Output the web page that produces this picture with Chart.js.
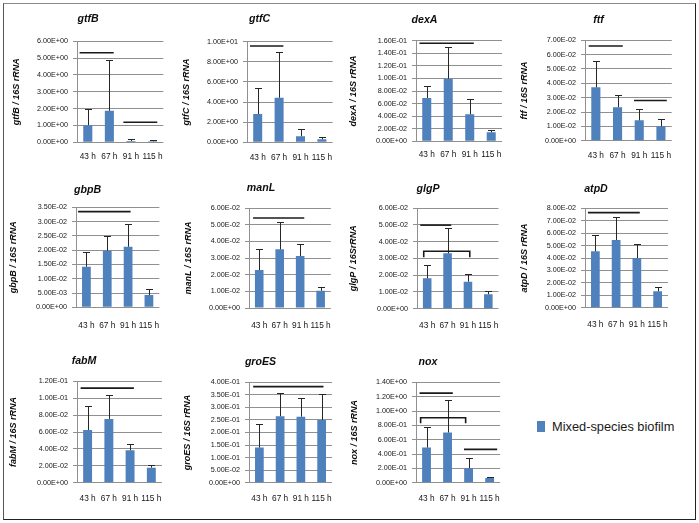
<!DOCTYPE html>
<html><head><meta charset="utf-8">
<script src="https://cdn.jsdelivr.net/npm/chart.js@4.4.1/dist/chart.umd.min.js"></script>
<style>
html,body{margin:0;padding:0;background:#fff;}
#wrap{position:relative;width:699px;height:523px;overflow:hidden;background:#fff;}
#frame{position:absolute;left:3px;top:3px;width:691px;height:515px;border:1px solid #555;border-top-color:#8a8a8a;border-right-color:#222;border-bottom-color:#222;}
canvas{position:absolute;}
#sw{position:absolute;left:537px;top:421px;width:8px;height:11px;background:#4F81BD;}
#legtxt{position:absolute;left:552px;top:420px;font:12.8px "Liberation Sans",Arial,sans-serif;line-height:14px;color:#1a1a1a;white-space:nowrap;}
</style></head><body>
<div id="wrap"><div id="frame"></div>
<div id="sw"></div><div id="legtxt">Mixed-species biofilm</div>
</div>
<script>
// ---- data ----
const categories = ['43 h', '67 h', '91 h', '115 h'];
const genes = ['gtfB', 'gtfC', 'dexA', 'ftf', 'gbpB', 'manL', 'glgP', 'atpD', 'fabM', 'groES', 'nox'];
const yTitles = ['gtfB / 16S rRNA', 'gtfC / 16S rRNA', 'dexA / 16S rRNA', 'ftf / 16S rRNA', 'gbpB / 16S rRNA', 'manL / 16S rRNA', 'glgP / 16SrRNA', 'atpD / 16S rRNA', 'fabM / 16S rRNA', 'groES / 16S rRNA', 'nox / 16S rRNA'];

const gtfB = [1.02, 1.87, 0.08, 0.06];
const gtfB_sd = [0.94, 3.02, 0.09, 0.07];
const gtfC = [2.81, 4.43, 0.60, 0.30];
const gtfC_sd = [2.62, 4.51, 0.69, 0.23];
const dexA = [0.069, 0.0996, 0.0429, 0.0143];
const dexA_sd = [0.0185, 0.0499, 0.0244, 0.0042];
const ftf = [0.0372, 0.0234, 0.0142, 0.0100];
const ftf_sd = [0.0183, 0.0085, 0.0081, 0.0054];
const gbpB = [0.0142, 0.0198, 0.0212, 0.0043];
const gbpB_sd = [0.0052, 0.0050, 0.0081, 0.0022];
const manL = [0.0228, 0.0352, 0.0312, 0.0104];
const manL_sd = [0.0124, 0.0162, 0.0070, 0.0020];
const glgP = [0.0181, 0.0330, 0.0161, 0.0086];
const glgP_sd = [0.0079, 0.0148, 0.0045, 0.0021];
const atpD = [0.0454, 0.0545, 0.0400, 0.0132];
const atpD_sd = [0.0133, 0.0183, 0.0110, 0.0032];
const fabM = [0.0624, 0.0755, 0.0384, 0.0178];
const fabM_sd = [0.0289, 0.0285, 0.0079, 0.0027];
const groES = [0.140, 0.265, 0.263, 0.250];
const groES_sd = [0.095, 0.092, 0.075, 0.105];
const nox = [0.49, 0.70, 0.20, 0.065];
const nox_sd = [0.28, 0.46, 0.145, 0.019];

const means = [gtfB, gtfC, dexA, ftf, gbpB, manL, glgP, atpD, fabM, groES, nox];
const sds = [gtfB_sd, gtfC_sd, dexA_sd, ftf_sd, gbpB_sd, manL_sd, glgP_sd, atpD_sd, fabM_sd, groES_sd, nox_sd];

// y axis tick ranges
const yMaxes = [6, 10, 0.16, 0.07, 0.035, 0.06, 0.06, 0.08, 0.12, 0.4, 1.4];
const ySteps = [1, 2, 0.02, 0.01, 0.005, 0.01, 0.01, 0.01, 0.02, 0.05, 0.2];

// significance lines: [fromCategoryIndex, toCategoryIndex, value]
const sigLines = [
  [[-0.38, 1.2, 5.32], [1.65, 3.22, 1.19]],
  [[-0.36, 1.2, 9.57]],
  [[-0.34, 2.19, 0.156]],
  [[-0.33, 1.24, 0.066], [1.76, 3.27, 0.028]],
  [[-0.4, 2.12, 0.0335]],
  [[-0.3, 2.2, 0.054]],
  [[-0.34, 1.18, 0.0498]],
  [[-0.36, 2.14, 0.0765]],
  [[-0.33, 2.18, 0.112]],
  [[-0.3, 3.09, 0.383]],
  [[-0.33, 1.25, 1.25], [1.78, 3.36, 0.465]]
];
// brackets: [fromIndex, toIndex, topValue, legValue]
const sigBrackets = [[], [], [], [], [], [], [[-0.17, 2.09, 0.0342, 0.0306]], [], [], [], [[-0.28, 1.86, 0.905, 0.83]]];

// ---- layout (canvas left, plot left, right, top, bottom, title y, label y, y-title pad) ----
const boxes = [
  [4, 77, 172, 41.3, 142.3, 19, 156.7, 8.2],
  [177, 247, 342, 41.7, 142.3, 19, 157.3, 5.2],
  [339, 416, 510, 40.7, 141.3, 19.7, 155, 10.5],
  [516, 585, 681, 40.3, 140.7, 20, 155.7, 4.5],
  [3, 76, 172, 207.3, 307.3, 190, 325.3, 6.5],
  [179, 249, 343, 208, 308, 187.7, 325.3, 4.8],
  [346, 417, 510, 208, 308.7, 189, 325.3, 3.5],
  [512, 585, 680, 208.3, 307.7, 189, 325, 8.5],
  [-4, 77, 172, 381.3, 482.7, 361.3, 498.3, 13.5],
  [178, 249, 343, 382.3, 482.7, 362, 499, 4.8],
  [345, 416, 511, 382.3, 482.7, 362, 499, 5.5]
];

const FAM = '"Liberation Sans", Arial, sans-serif';
const BAR = '#4F81BD';

function sci(v) {
  if (Math.abs(v) < 1e-12) return '0.00E+00';
  const parts = Number(v).toExponential(2).split('e');
  const n = parseInt(parts[1], 10);
  return parts[0] + 'E' + (n < 0 ? '-' : '+') + String(Math.abs(n)).padStart(2, '0');
}

function makeOverlay(mean, sd, lines, brackets) {
  return {
    id: 'overlay',
    afterDatasetsDraw(chart) {
      const ctx = chart.ctx, xs = chart.scales.x, ys = chart.scales.y;
      const meta = chart.getDatasetMeta(0);
      ctx.save();
      ctx.strokeStyle = '#262626';
      ctx.lineWidth = 1;
      meta.data.forEach((bar, i) => {
        const x = Math.round(bar.x) + 0.5;
        const y1 = Math.round(ys.getPixelForValue(mean[i] + sd[i])) + 0.5;
        ctx.beginPath();
        ctx.moveTo(x, bar.y);
        ctx.lineTo(x, y1);
        ctx.moveTo(x - 3.5, y1);
        ctx.lineTo(x + 3.5, y1);
        ctx.stroke();
      });
      ctx.strokeStyle = '#1a1a1a';
      ctx.lineWidth = 1.6;
      lines.forEach(([a, b, v]) => {
        const y = ys.getPixelForValue(v);
        ctx.beginPath();
        ctx.moveTo(xs.getPixelForValue(a), y);
        ctx.lineTo(xs.getPixelForValue(b), y);
        ctx.stroke();
      });
      brackets.forEach(([a, b, vt, vb]) => {
        const yt = ys.getPixelForValue(vt), yb = ys.getPixelForValue(vb);
        const xa = xs.getPixelForValue(a), xb = xs.getPixelForValue(b);
        ctx.beginPath();
        ctx.moveTo(xa, yb);
        ctx.lineTo(xa, yt);
        ctx.lineTo(xb, yt);
        ctx.lineTo(xb, yb);
        ctx.stroke();
      });
      ctx.restore();
    }
  };
}

const wrap = document.getElementById('wrap');
genes.forEach((gene, k) => {
  const [c, l, r, t, b, ty, ly, tpad] = boxes[k];
  const cy = Math.round(ty - 10);
  const W = r - c;
  const H = Math.ceil(ly + 7 - cy);
  const xh = cy + H - b;
  const cv = document.createElement('canvas');
  cv.width = W; cv.height = H;
  cv.style.left = c + 'px'; cv.style.top = cy + 'px';
  cv.style.width = W + 'px'; cv.style.height = H + 'px';
  wrap.appendChild(cv);
  new Chart(cv, {
    type: 'bar',
    data: {
      labels: categories,
      datasets: [{ data: means[k], backgroundColor: BAR, borderWidth: 0, barPercentage: 0.42, categoryPercentage: 1 }]
    },
    options: {
      responsive: false, animation: false, devicePixelRatio: 1,
      layout: { padding: 0 },
      plugins: {
        legend: { display: false }, tooltip: { enabled: false },
        title: {
          display: true, text: gene, color: '#0d0d0d',
          font: { family: FAM, size: 10.6, weight: 'bold', style: 'italic', lineHeight: 1.2 },
          padding: { top: 3.6, bottom: t - cy - 16.3 }
        }
      },
      scales: {
        x: {
          grid: { display: false, drawTicks: false }, border: { display: false },
          ticks: { color: '#151515', font: { family: FAM, size: 8.3 }, padding: ly - b - 5, maxRotation: 0, autoSkip: false },
          afterFit: s => { s.height = xh; }
        },
        y: {
          min: 0, max: yMaxes[k],
          grid: { color: '#909090', tickLength: 4 },
          border: { display: true, color: '#909090' },
          ticks: { stepSize: ySteps[k], autoSkip: false, padding: 5, color: '#151515', font: { family: FAM, size: 7.2 }, callback: v => sci(v) },
          title: { display: true, text: yTitles[k], color: '#0d0d0d', font: { family: FAM, size: 9, weight: 'bold', style: 'italic', lineHeight: 1 }, padding: tpad },
          afterFit: s => { s.width = l - c; }
        }
      }
    },
    plugins: [makeOverlay(means[k], sds[k], sigLines[k], sigBrackets[k])]
  });
});
</script>
</body></html>
